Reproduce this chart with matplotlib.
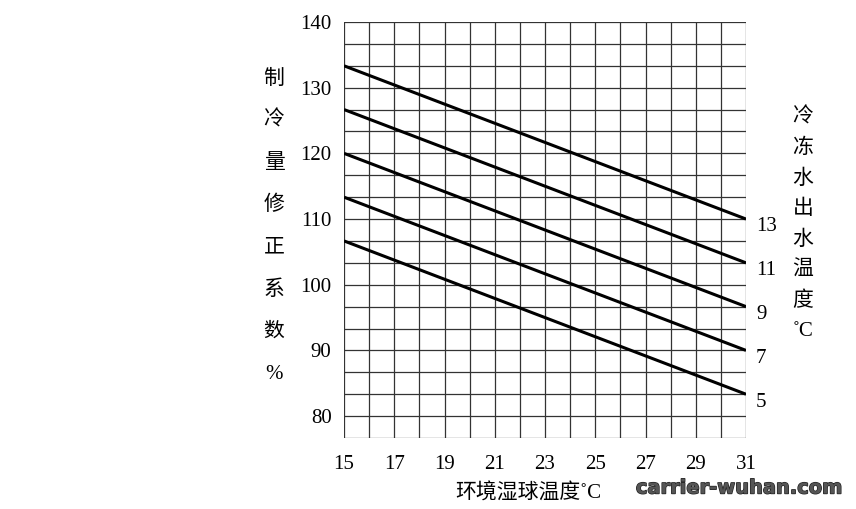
import numpy as np
import matplotlib.pyplot as plt
import matplotlib.patheffects as pe

plt.rcParams['font.family'] = ['Liberation Serif', 'Noto Sans CJK SC', 'DejaVu Sans']

# wet bulb temperature range (x) and correction factor (%) at both ends
x_ends = [15, 31]
water_temps = ['13', '11', '9', '7', '5']
start_vals = [133.33, 126.67, 120.0, 113.33, 106.67]
end_vals = [110.0, 103.33, 96.67, 90.0, 83.33]

x_ticks = [15, 17, 19, 21, 23, 25, 27, 29, 31]
y_ticks = [80, 90, 100, 110, 120, 130, 140]

fig = plt.figure(figsize=(8.56, 5.09), dpi=100)
ax = fig.add_axes([0.4019, 0.1395, 0.4696, 0.8173])

ymin = 80 - 10 / 3
ax.set_xlim(15, 31)
ax.set_ylim(ymin, 140)

# grid lines
for gx in range(15, 32):
    ax.axvline(gx, color='#333333', lw=0.9, zorder=1)
for k in range(20):
    ax.axhline(ymin + k * 10 / 3, color='#333333', lw=0.9, zorder=1)

for lab, y0, y1 in zip(water_temps, start_vals, end_vals):
    ax.plot(x_ends, [y0, y1], color='black', lw=2.2, zorder=3,
            solid_capstyle='butt')
    ax.text(31.4, y1 - 1.2, lab, fontsize=15, ha='left', va='center')

for s in ax.spines.values():
    s.set_visible(False)
ax.set_xticks(x_ticks)
ax.set_yticks(y_ticks)
ax.tick_params(length=0, labelsize=15)
ax.tick_params(axis='x', pad=12)
ax.tick_params(axis='y', pad=9)

fig.text(528 / 856, 1 - 494 / 509, '环境湿球温度˚C', fontsize=15,
         ha='center', va='center')

left_label = ['制', '冷', '量', '修', '正', '系', '数', '%']
for i, ch in enumerate(left_label):
    fig.text(274 / 856, 1 - (79 + i * 42.2) / 509, ch, fontsize=15,
             ha='center', va='center')

right_label = ['冷', '冻', '水', '出', '水', '温', '度', '˚C']
for i, ch in enumerate(right_label):
    fig.text(803 / 856, 1 - (118 + i * 30.5) / 509, ch, fontsize=15,
             ha='center', va='center')

fig.text(843 / 856, 1 - 488 / 509, 'carrier-wuhan.com', fontsize=14,
         family='DejaVu Sans', weight='bold', ha='right', va='center',
         color='#555555',
         path_effects=[pe.withStroke(linewidth=1.0, foreground='#222222')])

fig.savefig('out.png', dpi=100)
